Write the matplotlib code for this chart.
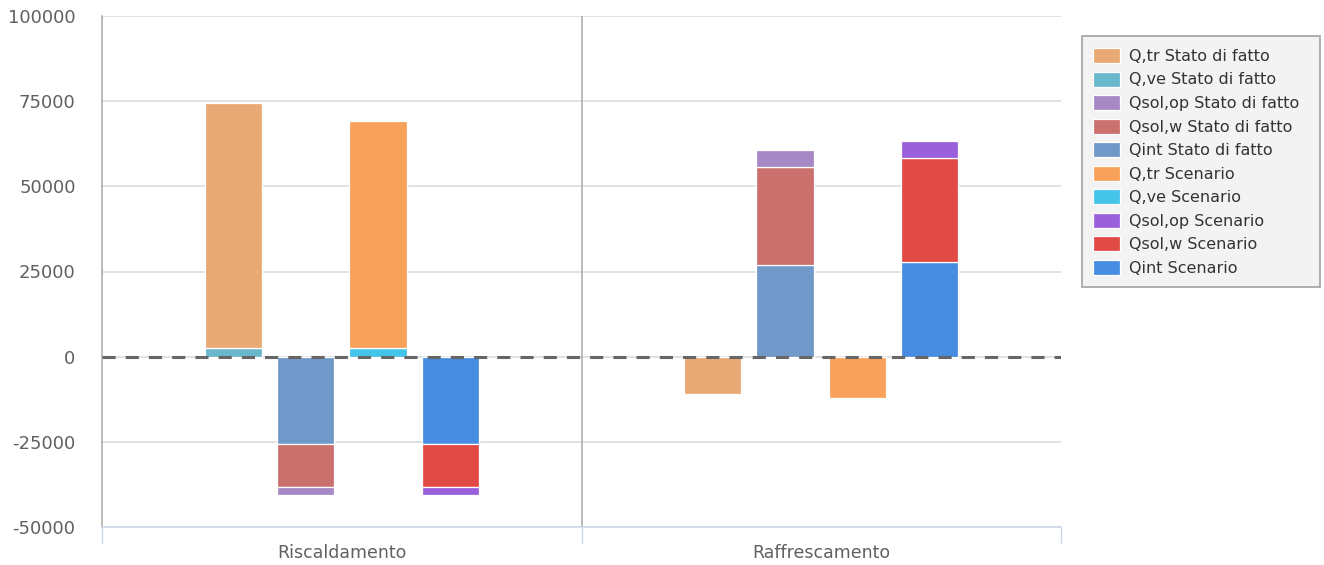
import matplotlib
matplotlib.use("Agg")
import matplotlib.pyplot as plt
from matplotlib.patches import Rectangle
import numpy as np

categories = ["Riscaldamento", "Raffrescamento"]

series_names = [
    "Q,tr Stato di fatto", "Q,ve Stato di fatto", "Qsol,op Stato di fatto",
    "Qsol,w Stato di fatto", "Qint Stato di fatto",
    "Q,tr Scenario", "Q,ve Scenario", "Qsol,op Scenario",
    "Qsol,w Scenario", "Qint Scenario",
]
series_colors = [
    "#e9a975", "#6ab8cc", "#a689c4", "#cb716d", "#7098c9",
    "#f8a15a", "#44c4e8", "#9a60dc", "#e24a45", "#468de2",
]
# stack slot of each series (0: SdF dispersioni, 1: SdF apporti, 2: Scen dispersioni, 3: Scen apporti)
series_slot = [0, 0, 1, 1, 1, 2, 2, 3, 3, 3]

qtr_sdf = [72000, -11000]
qve_sdf = [2500, 0]
qsolop_sdf = [-2350, 4900]
qsolw_sdf = [-12800, 28800]
qint_sdf = [-25500, 27000]
qtr_scen = [66600, -12000]
qve_scen = [2500, 0]
qsolop_scen = [-2350, 5000]
qsolw_scen = [-12800, 30400]
qint_scen = [-25500, 27850]

series_values = [qtr_sdf, qve_sdf, qsolop_sdf, qsolw_sdf, qint_sdf,
                 qtr_scen, qve_scen, qsolop_scen, qsolw_scen, qint_scen]

yticks = [-50000, -25000, 0, 25000, 50000, 75000, 100000]

W, H = 1324, 565
fig = plt.figure(figsize=(W / 100, H / 100), dpi=100)
ax = fig.add_axes([102 / W, 1 - 527 / H, (1061 - 102) / W, (527 - 16) / H])

slot_step = 0.1508
bar_w = 0.1195
offsets = [(-1.5 + k) * slot_step for k in range(4)]
x = np.arange(len(categories))

pos_base = np.zeros((4, len(categories)))
neg_base = np.zeros((4, len(categories)))
handles = [None] * len(series_names)
for i in reversed(range(len(series_names))):
    s = series_slot[i]
    vals = np.array(series_values[i], dtype=float)
    bottoms = np.where(vals >= 0, pos_base[s], neg_base[s])
    h = ax.bar(x + offsets[s], vals, bar_w, bottom=bottoms, color=series_colors[i],
               edgecolor="white", linewidth=0.9, zorder=3, label=series_names[i])
    handles[i] = h
    pos_base[s] += np.where(vals >= 0, vals, 0)
    neg_base[s] += np.where(vals < 0, vals, 0)

ax.set_xlim(-0.5, 1.5)
ax.set_ylim(-50000, 100000)
ax.set_yticks(yticks)
ax.set_yticklabels([str(v) for v in yticks])
ax.yaxis.grid(True, color="#d8d8d8", linewidth=1.1, zorder=0)
ax.set_axisbelow(True)
ax.tick_params(axis="y", length=0, pad=19, labelsize=13, labelcolor="#606060")

ax.set_xticks(x)
ax.set_xticklabels(categories)
ax.set_xticks([-0.5, 0.5, 1.5], minor=True)
ax.tick_params(axis="x", which="major", length=0, pad=12, labelsize=12.5, labelcolor="#606060")
ax.tick_params(axis="x", which="minor", length=11.5, width=1, color="#ccd6eb")

ax.axvline(0.5, color="#a8a8a8", linewidth=1.1, zorder=1)
ax.axhline(0, color="#666666", linewidth=2.2, dashes=(4.3, 3.3), zorder=5)

for side in ["top", "right"]:
    ax.spines[side].set_visible(False)
ax.spines["left"].set_color("#a8a8a8")
ax.spines["left"].set_linewidth(1.1)
ax.spines["bottom"].set_color("#ccd6eb")
ax.spines["bottom"].set_linewidth(1.1)

# legend box
fig.patches.append(Rectangle((1082 / W, 1 - 287 / H), (1320 - 1082) / W, (287 - 36) / H,
                             transform=fig.transFigure, facecolor="#f3f3f3",
                             edgecolor="#a8a8a8", linewidth=1.3, zorder=0))
leg = fig.legend(handles, series_names, loc="upper left",
                 bbox_to_anchor=(1093 / W, 1 - 48 / H), borderaxespad=0,
                 fontsize=11.5, frameon=False,
                 handlelength=1.7, handleheight=1.07, handletextpad=0.55,
                 labelspacing=0.475, borderpad=0.0)
for t in leg.get_texts():
    t.set_color("#333333")

fig.savefig("out.png", dpi=100)
